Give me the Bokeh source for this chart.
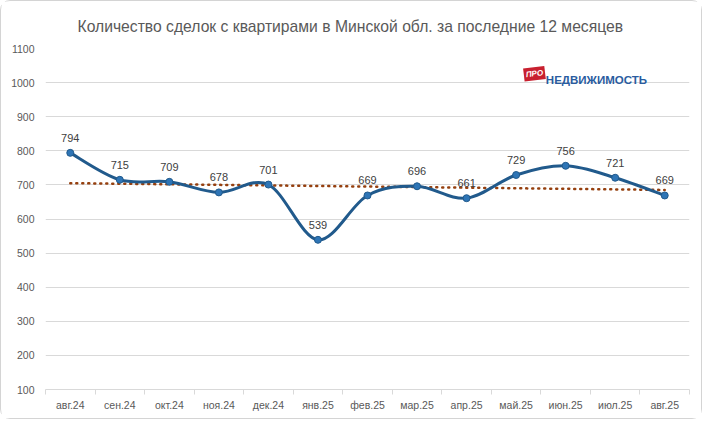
import numpy as np
from bokeh.plotting import figure
from bokeh.models import Range1d, FixedTicker, Label, ColumnDataSource
from bokeh.core.properties import value
from bokeh.embed import file_html
from bokeh.resources import INLINE

months = ["авг.24", "сен.24", "окт.24", "ноя.24", "дек.24", "янв.25", "фев.25",
          "мар.25", "апр.25", "май.25", "июн.25", "июл.25", "авг.25"]
deals = [794, 715, 709, 678, 701, 539, 669, 696, 661, 729, 756, 721, 669]
y_ticks = [100, 200, 300, 400, 500, 600, 700, 800, 900, 1000, 1100]
title_text = "Количество сделок с квартирами в Минской обл. за последние 12 месяцев"

FONT = "Liberation Sans"
GRID = "#d9d9d9"
TXT = "#595959"

x = np.arange(len(deals), dtype=float)
y = np.array(deals, dtype=float)
n = len(x)

p = figure(width=702, height=419, output_backend="svg", toolbar_location=None,
           x_range=Range1d(-0.5, n - 0.5), y_range=Range1d(100, 1100),
           min_border_left=44, min_border_right=14, min_border_top=47, min_border_bottom=31)
p.styles = {"border": "1px solid #d4d4d4", "border-radius": "10px"}
p.outline_line_color = None
p.background_fill_color = "white"
p.border_fill_color = "white"

p.title.text = title_text
p.title.align = "left"
p.title.text_font = FONT
p.title.text_font_size = "15.7px"
p.title.text_font_style = "normal"
p.title.text_color = TXT
p.title.standoff = 27
p.title.offset = 32

# axes
p.xaxis.ticker = FixedTicker(ticks=list(x), minor_ticks=list(np.arange(-0.5, n, 1.0)))
p.xaxis.major_label_overrides = {int(i): m for i, m in enumerate(months)}
p.xaxis.axis_line_color = GRID
p.xaxis.major_tick_line_color = None
p.xaxis.major_tick_out = 0
p.xaxis.major_tick_in = 0
p.xaxis.minor_tick_line_color = GRID
p.xaxis.minor_tick_out = 5
p.xaxis.minor_tick_in = 0
p.xaxis.major_label_standoff = 4
p.xaxis.major_label_text_font = FONT
p.xaxis.major_label_text_font_size = "10.5px"
p.xaxis.major_label_text_color = TXT

p.yaxis.ticker = FixedTicker(ticks=y_ticks)
p.yaxis.axis_line_color = None
p.yaxis.major_tick_line_color = None
p.yaxis.minor_tick_line_color = None
p.yaxis.major_tick_out = 0
p.yaxis.major_label_standoff = 11
p.yaxis.major_label_text_font = FONT
p.yaxis.major_label_text_font_size = "10.5px"
p.yaxis.major_label_text_color = TXT

p.xgrid.grid_line_color = None
p.ygrid.grid_line_color = GRID
p.ygrid.grid_line_width = 1

# linear trendline
k, b = np.polyfit(x, y, 1)
p.line([x[0], x[-1]], [k * x[0] + b, k * x[-1] + b], line_color="#953F0E",
       line_width=2.5, line_dash="1 5", line_cap="round")

# smoothed line (Excel-like cubic Bezier segments)
P = np.column_stack([x, y])
Pm = np.vstack([P[0], P, P[-1]])
x0, y0, x1, y1, cx0, cy0, cx1, cy1 = [], [], [], [], [], [], [], []
for i in range(n - 1):
    a, c = P[i], P[i + 1]
    prev, nxt = Pm[i], Pm[i + 3]
    c0 = a + (c - prev) / 6.0
    c1 = c - (nxt - a) / 6.0
    x0.append(a[0]); y0.append(a[1]); x1.append(c[0]); y1.append(c[1])
    cx0.append(c0[0]); cy0.append(c0[1]); cx1.append(c1[0]); cy1.append(c1[1])
p.bezier(x0=x0, y0=y0, x1=x1, y1=y1, cx0=cx0, cy0=cy0, cx1=cx1, cy1=cy1,
         line_color="#215A8C", line_width=3)

src = ColumnDataSource(dict(x=x, y=y, t=[str(v) for v in deals]))
p.scatter("x", "y", source=src, size=7, fill_color="#2E75B6", line_color="#215A8C", line_width=1)
p.text("x", "y", text="t", source=src, text_align="center", text_baseline="bottom",
       y_offset=-11, text_font=value(FONT), text_font_size="11px", text_color="#404040")

# logo
p.add_layout(Label(x=9.37, y=1026, text="ПРО", text_align="center", text_baseline="middle",
                   text_font=FONT, text_font_size="8px", text_font_style="bold italic",
                   text_color="white", background_fill_color="#C8202F", angle=0.12,
                   padding=2))
p.add_layout(Label(x=9.6, y=1007, text="НЕДВИЖИМОСТЬ", text_align="left", text_baseline="alphabetic",
                   text_font=FONT, text_font_size="11.5px", text_font_style="bold",
                   text_color="#2A5CA0"))

open("out.html", "w").write(file_html(p, INLINE))
